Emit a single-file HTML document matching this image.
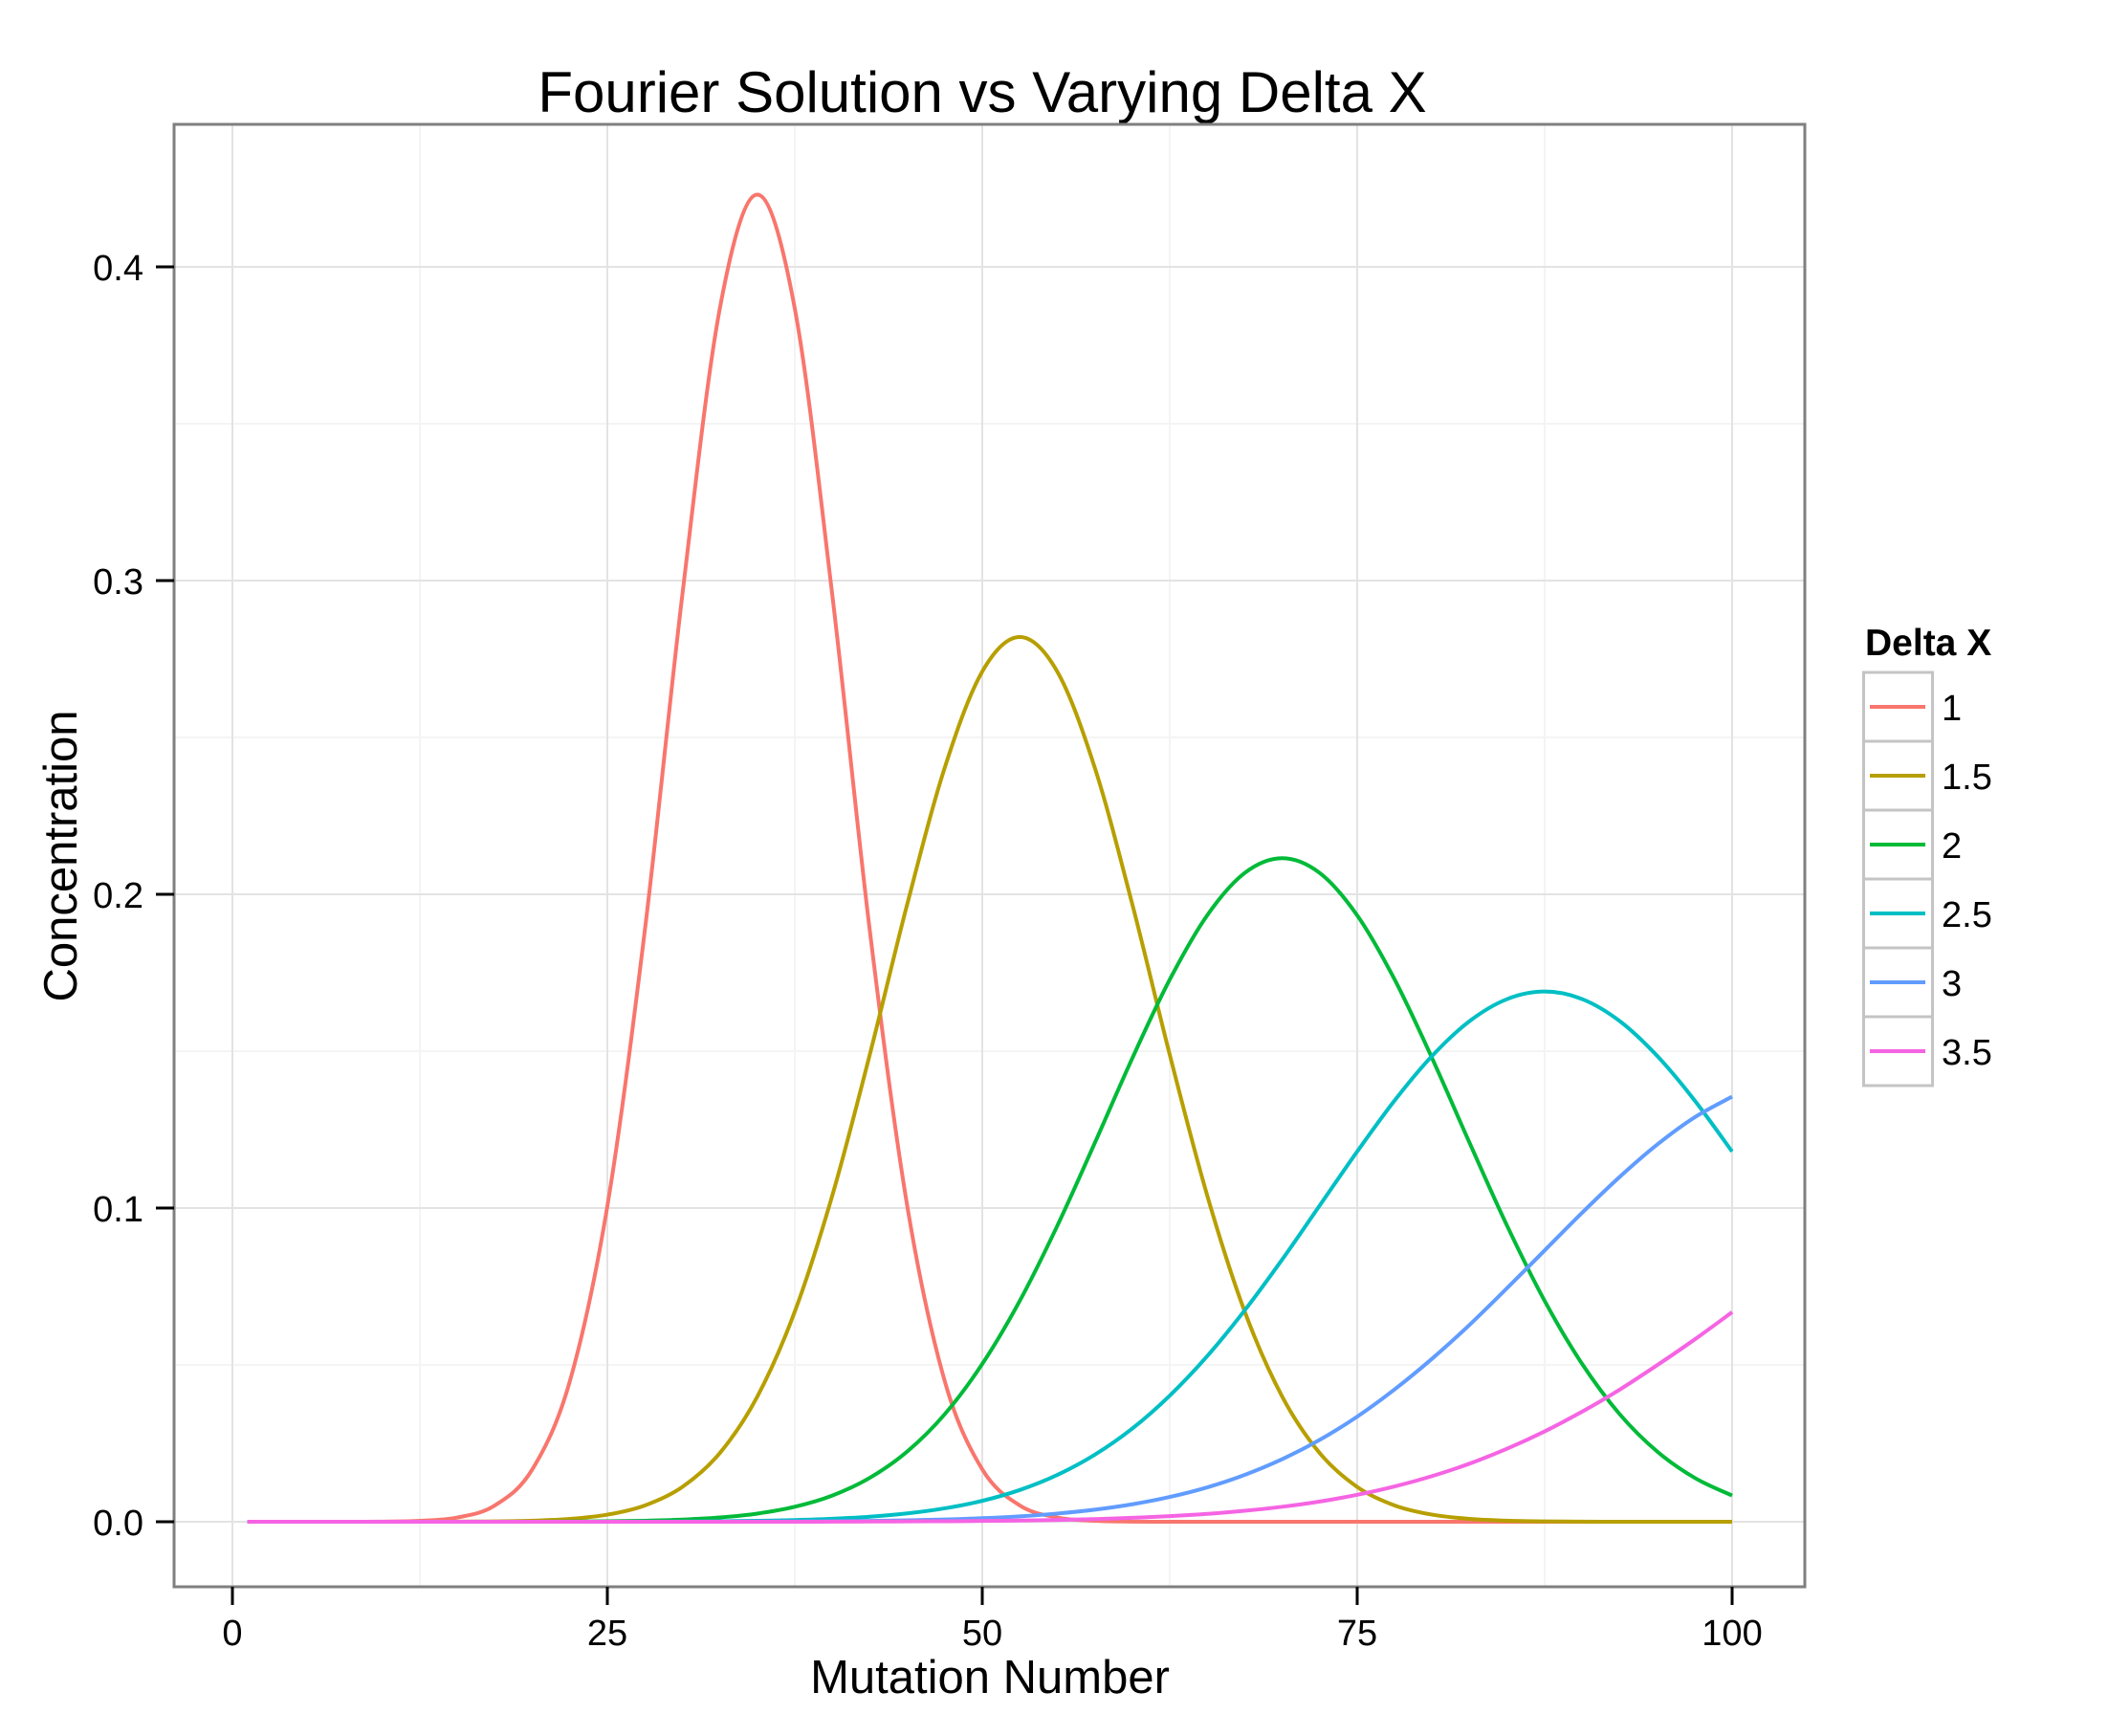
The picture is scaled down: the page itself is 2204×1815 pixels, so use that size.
<!DOCTYPE html>
<html><head><meta charset="utf-8"><style>
html,body{margin:0;padding:0;background:#fff;}
svg{display:block;font-family:"Liberation Sans",Arial,sans-serif;}
</style></head><body>
<svg id="chart" width="2204" height="1815" viewBox="0 0 2204 1815" xmlns="http://www.w3.org/2000/svg">
<rect width="2204" height="1815" fill="#fff"/>
<text x="1027" y="117" font-size="60" text-anchor="middle" fill="#000">Fourier Solution vs Varying Delta X</text>
<g id="grid"></g>
<g id="series"></g>
<rect x="182" y="130" width="1705" height="1529" fill="none" stroke="#7f7f7f" stroke-width="3"/>
<g id="axes"></g>
<text x="1035" y="1770" font-size="49" text-anchor="middle" fill="#000">Mutation Number</text>
<text x="0" y="0" font-size="49" text-anchor="middle" fill="#000" transform="translate(80,895) rotate(-90)">Concentration</text>
<g id="legend">
<text x="1950" y="685" font-size="39" font-weight="bold" fill="#000">Delta X</text>
</g>
</svg>
<script>
const xValues = [1,2.5,5,7.5,10,12.5,15,17.5,20,22.5,25,27.5,30,32.5,35,37.5,40,42.5,45,47.5,50,52.5,55,57.5,60,62.5,65,67.5,70,72.5,75,77.5,80,82.5,85,87.5,90,92.5,95,97.5,100];
const seriesNames = ["1","1.5","2","2.5","3","3.5"];
const seriesColors = ["#F8766D","#B79F00","#00BA38","#00BFC4","#619CFF","#F564E3"];
const yDelta1 = [0,0,0,0,0.00005,0.0003,0.00135,0.0052,0.0167,0.0448,0.1006,0.1885,0.2954,0.3867,0.423,0.3867,0.2954,0.1885,0.1006,0.0448,0.0167,0.0052,0.00135,0.0003,0.00005,0,0,0,0,0,0,0,0,0,0,0,0,0,0,0,0];
const yDelta15 = [0,0,0,0,0,0,0.00004,0.00011,0.00033,0.0009,0.00226,0.0052,0.0111,0.0219,0.0399,0.067,0.104,0.1489,0.1969,0.2404,0.271,0.282,0.271,0.2404,0.1969,0.1489,0.104,0.067,0.0399,0.0219,0.0111,0.0052,0.00226,0.0009,0.00033,0.00011,0.00004,0,0,0,0];
const yDelta2 = [0,0,0,0,0,0,0,0,0,0.00006,0.00015,0.00032,0.00068,0.00136,0.0026,0.00477,0.00835,0.014,0.0224,0.0343,0.0503,0.0704,0.0943,0.1207,0.1477,0.1728,0.1933,0.2068,0.2115,0.2068,0.1933,0.1728,0.1477,0.1207,0.0943,0.0704,0.0503,0.0343,0.0224,0.014,0.00835];
const yDelta25 = [0,0,0,0,0,0,0,0,0,0,0,0.00004,0.00008,0.00016,0.0003,0.00054,0.00094,0.00161,0.00266,0.00428,0.00667,0.01012,0.01492,0.02136,0.0297,0.0402,0.0528,0.0674,0.0836,0.1008,0.118,0.1343,0.1485,0.1596,0.1666,0.169,0.1666,0.1596,0.1485,0.1343,0.118];
const yDelta3 = [0,0,0,0,0,0,0,0,0,0,0,0,0,0.00003,0.00006,0.0001,0.00017,0.00028,0.00045,0.00072,0.00113,0.00173,0.00261,0.00385,0.00557,0.0079,0.01097,0.01495,0.01996,0.0261,0.0335,0.0422,0.052,0.0628,0.0745,0.0865,0.0985,0.1099,0.1202,0.1289,0.1355];
const yDelta35 = [0,0,0,0,0,0,0,0,0,0,0,0,0,0,0,0,0.00004,0.00007,0.00011,0.00017,0.00025,0.00039,0.00058,0.00085,0.00124,0.00178,0.0025,0.00349,0.00478,0.00645,0.00859,0.01127,0.01456,0.01854,0.0233,0.0288,0.0351,0.0421,0.0499,0.0581,0.0668];
const xTicks = [0,25,50,75,100];
const xMinor = [12.5,37.5,62.5,87.5];
const yTicks = [0,0.1,0.2,0.3,0.4];
const yTickLabels = ["0.0","0.1","0.2","0.3","0.4"];
const yMinor = [0.05,0.15,0.25,0.35];

const NS="http://www.w3.org/2000/svg";
const PL=182,PR=1887,PT=130,PB=1659;
function sx(v){return 243+(1811-243)*v/100;}
function sy(v){return 1591-(1591-279)*v/0.4;}
function mk(tag,attrs,parent){const e=document.createElementNS(NS,tag);for(const k in attrs)e.setAttribute(k,attrs[k]);parent.appendChild(e);return e;}
const grid=document.getElementById('grid'),axes=document.getElementById('axes'),series=document.getElementById('series'),legend=document.getElementById('legend');

yMinor.forEach(v=>{const l=mk('line',{x1:PL,x2:PR,y1:sy(v),y2:sy(v),stroke:'#f4f4f4','stroke-width':2},grid);

});
xMinor.forEach(v=>{const l=mk('line',{x1:sx(v),x2:sx(v),y1:PT,y2:PB,stroke:'#f4f4f4','stroke-width':2},grid);

});
yTicks.forEach((v,i)=>{const l=mk('line',{x1:PL,x2:PR,y1:sy(v),y2:sy(v),stroke:'#e3e3e3','stroke-width':2},grid);


const t=mk('line',{x1:163,x2:PL,y1:sy(v),y2:sy(v),stroke:'#000','stroke-width':3},axes);


const tx=mk('text',{x:150,y:sy(v)+14,'font-size':38,'text-anchor':'end',fill:'#000'},axes);tx.textContent=yTickLabels[i];

});
xTicks.forEach(v=>{const l=mk('line',{x1:sx(v),x2:sx(v),y1:PT,y2:PB,stroke:'#e3e3e3','stroke-width':2},grid);


const t=mk('line',{x1:sx(v),x2:sx(v),y1:PB,y2:1678,stroke:'#000','stroke-width':3},axes);


const tx=mk('text',{x:sx(v),y:1720,'font-size':38,'text-anchor':'middle',fill:'#000'},axes);tx.textContent=String(v);

});

function smoothPath(xs,ys){
 const p=xs.map((x,i)=>[sx(x),sy(ys[i])]);
 let d='M'+p[0][0].toFixed(2)+','+p[0][1].toFixed(2);
 for(let i=0;i<p.length-1;i++){
  const p0=p[Math.max(i-1,0)],p1=p[i],p2=p[i+1],p3=p[Math.min(i+2,p.length-1)];
  const c1x=p1[0]+(p2[0]-p0[0])/6,c1y=p1[1]+(p2[1]-p0[1])/6;
  const c2x=p2[0]-(p3[0]-p1[0])/6,c2y=p2[1]-(p3[1]-p1[1])/6;
  d+='C'+c1x.toFixed(2)+','+c1y.toFixed(2)+' '+c2x.toFixed(2)+','+c2y.toFixed(2)+' '+p2[0].toFixed(2)+','+p2[1].toFixed(2);
 }
 return d;
}
const allY=[yDelta1,yDelta15,yDelta2,yDelta25,yDelta3,yDelta35];
allY.forEach((ys,i)=>{
 const path=mk('path',{d:smoothPath(xValues,ys),fill:'none',stroke:seriesColors[i],'stroke-width':4,'stroke-linejoin':'round'},series);
 
 
 const top=703+72*i;
 const box=mk('rect',{x:1948.5,y:top,width:72,height:72,fill:'#fff',stroke:'#c4c4c4','stroke-width':3},legend);
 
 
 const ln=mk('line',{x1:1955,x2:2013,y1:top+36,y2:top+36,stroke:seriesColors[i],'stroke-width':4},legend);
 
 
 const lt=mk('text',{x:2030,y:top+50,'font-size':38,fill:'#000'},legend);lt.textContent=seriesNames[i];
 
 
});
</script>
</body></html>
